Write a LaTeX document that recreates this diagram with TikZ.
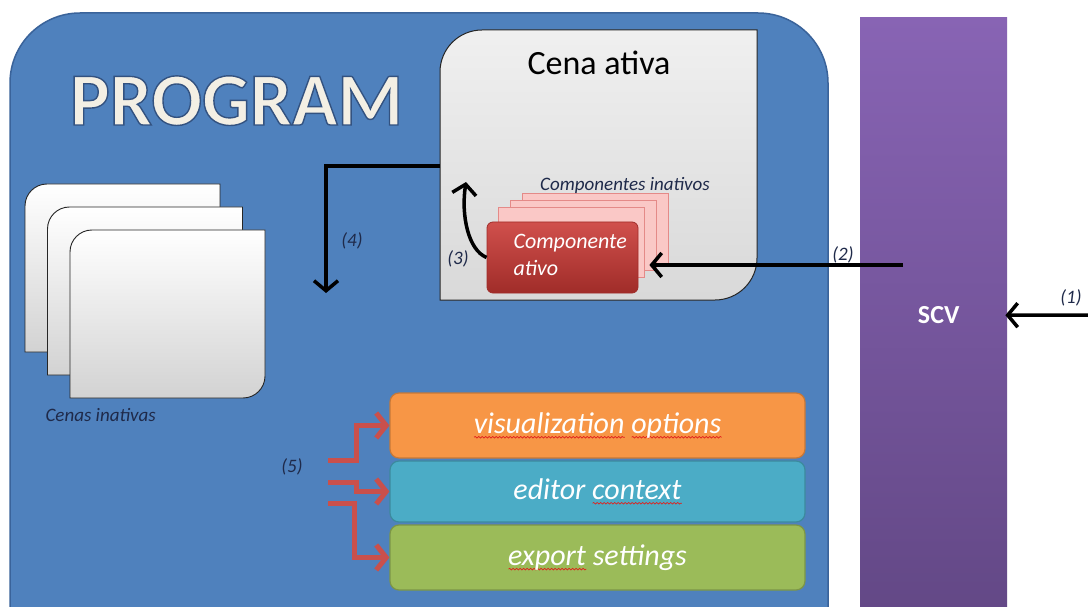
\documentclass[tikz,border=0pt]{standalone}
\usepackage{fontspec}
\setmainfont{Carlito}
\usepackage{tikz}
\usetikzlibrary{positioning,calc,arrows.meta,decorations.pathmorphing}

\definecolor{progblue}{HTML}{4F81BD}
\definecolor{progborder}{HTML}{3A639A}
\definecolor{progtext}{HTML}{F3EFE4}
\definecolor{scvtop}{HTML}{8864B4}
\definecolor{scvbottom}{HTML}{634886}
\definecolor{activered}{HTML}{D0504C}
\definecolor{activedark}{HTML}{A02C29}
\definecolor{inactivepink}{HTML}{FAC8C6}
\definecolor{pinkborder}{HTML}{E48A88}
\definecolor{optorange}{HTML}{F79646}
\definecolor{optblue}{HTML}{4BACC6}
\definecolor{optgreen}{HTML}{9BBB59}
\definecolor{labelnavy}{HTML}{1F2A4A}
\definecolor{fanred}{HTML}{C9504C}
\definecolor{spellred}{HTML}{E0201C}

% outlined title text (fill + stroke in one go)
\newcommand{\outlined}[1]{\special{pdf:literal 2 Tr 1.4 w 0.20 0.32 0.50 RG}#1\special{pdf:literal 0 Tr}}
\newlength{\spellwd}
\newcommand{\spellmark}[1]{\settowidth{\spellwd}{#1}\rlap{\raisebox{-5pt}{\tikz\draw[spellred, sharp corners, line width=0.7pt, decorate, decoration={snake, amplitude=0.8pt, segment length=3.5pt}] (0pt,0pt) -- (\spellwd,0pt);}}#1}

\begin{document}
\begin{tikzpicture}[
    x=1pt, y=-1pt,
    flow/.style={draw, line width=3.5pt, -{Straight Barb[length=10pt, width=24pt]}},
    fanarrow/.style={draw=fanred, line width=5pt, -{Straight Barb[length=10pt, width=25pt]}},
    steplabel/.style={font=\itshape\fontsize{19}{19}\selectfont, text=labelnavy},
    optbox/.style={draw, rounded corners=9pt, line width=1.2pt, minimum width=415pt, font=\itshape\fontsize{30}{30}\selectfont, text=white},
    inactivecard/.style={draw=pinkborder, fill=inactivepink, line width=0.8pt},
    scenecard/.style={draw=black!85, line width=0.9pt, top color=white, bottom color=gray!35}
]

% Page and background
\useasboundingbox (0,0) rectangle (1088,607);
\fill[white] (0,0) rectangle (1088,607);

% Program area
\fill[progblue, draw=progborder, line width=1.5pt] (10,620) -- (10,83) .. controls (10,44.3) and (41.3,13) .. (80,13) -- (758,13) .. controls (796.7,13) and (828,44.3) .. (828,83) -- (828,620) -- cycle;
\node[anchor=base, text=progtext, font=\bfseries\fontsize{75}{75}\selectfont] (program) at (236.5,125) {\outlined{PROGRAM}};

% Active scene
\path[draw=black!85, line width=1pt, top color=gray!12, bottom color=gray!30] (440,300) -- (440,72) .. controls (440,48.8) and (458.8,30) .. (482,30) -- (757,30) -- (757,258) .. controls (757,281.2) and (738.2,300) .. (715,300) -- cycle;
\node[anchor=base, font=\fontsize{34}{34}\selectfont] (cena) at (599,75) {Cena ativa};
\coordinate (cena-left) at (440,166);

% Inactive components
\foreach \px/\py in {522/193, 510/200, 498/207}
    \path[inactivecard] (\px,\py) rectangle ++(146,70);
\node[anchor=base, font=\itshape\fontsize{19}{19}\selectfont, text=labelnavy] (inativos) at (625,190) {Componentes inativos};

% Active component
\node[draw=activedark, line width=0.8pt, top color=activered, bottom color=activedark, rounded corners=6pt, minimum width=151pt, minimum height=71pt] (ativo) at (562.5,257.5) {};
\node[anchor=north west, align=left, font=\itshape\fontsize{22}{27}\selectfont, text=white] (ativo-text) at (510,231) {Componente\\ativo};

% Inactive scenes
\foreach \k in {0,1,2}
    \path[scenecard, shift={(22.5*\k,23*\k)}] (25,352) -- (25,206) .. controls (25,193.8) and (34.8,184) .. (47,184) -- (220,184) -- (220,330) .. controls (220,342.2) and (210.2,352) .. (198,352) -- cycle;
\node[anchor=base west, font=\itshape\fontsize{19}{19}\selectfont, text=labelnavy] (cenas) at (42,421) {Cenas inativas};

% SCV bar
\node[anchor=north west, minimum width=147pt, minimum height=596pt, inner sep=0pt, top color=scvtop, bottom color=scvbottom, font=\bfseries\fontsize{26}{26}\selectfont, text=white] (scv) at (860,17) {\hspace*{10pt}SCV};

% Option boxes
\node[optbox, fill=optorange, draw=optorange!80!black, minimum height=65pt] (visual) at (597.5,425.5) {\spellmark{visualization} \spellmark{options}};
\node[optbox, fill=optblue, draw=optblue!80!black, minimum height=61pt] (editor) at (597.5,491.5) {editor \spellmark{context}};
\node[optbox, fill=optgreen, draw=optgreen!80!black, minimum height=65pt] (export) at (597.5,557.5) {\spellmark{export} settings};

% Flow arrows
\coordinate (feed) at (1088,315);
\coordinate (scv-out) at (903,265);
\coordinate (lift) at (466,182);
\coordinate (drop) at (326,293);
\draw[flow, shorten >=-2pt] (feed) -- (scv.east);
\draw[flow, shorten >=11pt] (scv-out) -- (ativo.east |- scv-out);
\draw[flow] (ativo.west) .. controls (468,250) and (461,215) .. (lift);
\draw[flow] (cena-left) -| (drop);

\node[steplabel] (l1) at (1071,298) {(1)};
\node[steplabel] (l2) at (843,255) {(2)};
\node[steplabel] (l3) at (458,259) {(3)};
\node[steplabel] (l4) at (352,241) {(4)};

% Option arrows
\coordinate (fan-a) at (328,460);
\coordinate (fan-b) at (328,482);
\coordinate (fan-c) at (328,503);
\draw[fanarrow] (fan-a) -| ([xshift=-33pt]visual.west) -- (visual.west);
\draw[fanarrow] (fan-b) -| ([xshift=-33pt]editor.west) -- (editor.west);
\draw[fanarrow] (fan-c) -| ([xshift=-35pt]export.west) -- (export.west);
\node[steplabel] (l5) at (292,467) {(5)};

\end{tikzpicture}
\end{document}
